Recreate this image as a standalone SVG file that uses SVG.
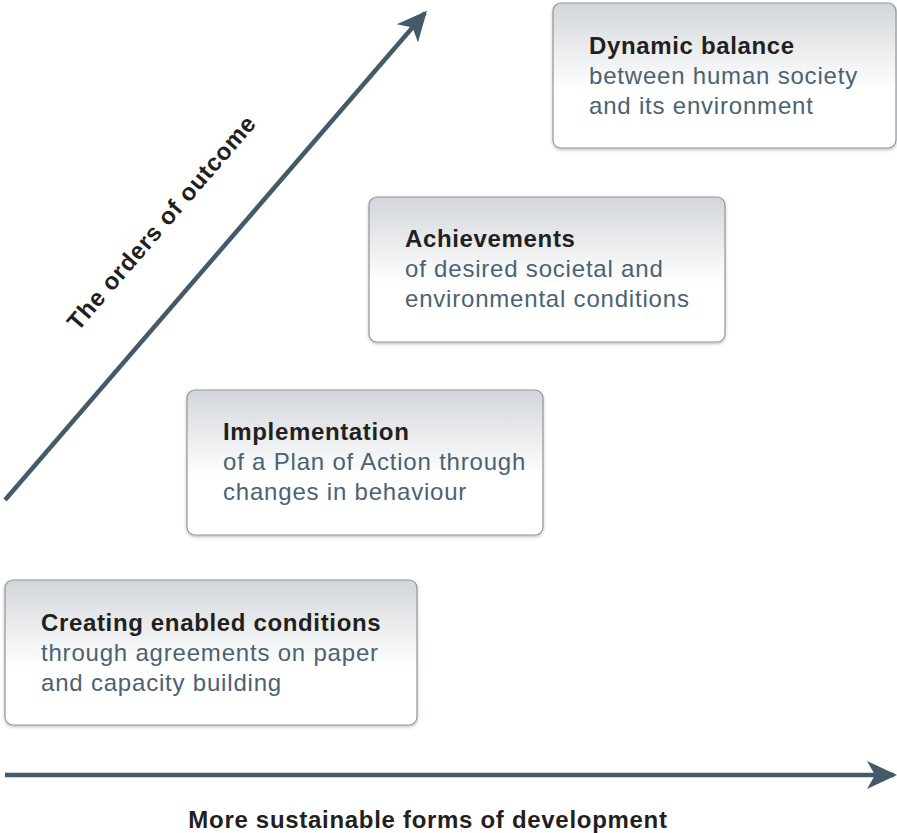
<svg xmlns="http://www.w3.org/2000/svg" width="897" height="833" viewBox="0 0 897 833">
<defs>
<linearGradient id="bg" x1="0" y1="0" x2="0" y2="1">
<stop offset="0" stop-color="#d2d6da"/>
<stop offset="0.6" stop-color="#ffffff"/>
<stop offset="1" stop-color="#ffffff"/>
</linearGradient>
<filter id="sh" x="-5%" y="-5%" width="110%" height="115%">
<feDropShadow dx="0" dy="1.5" stdDeviation="1.5" flood-color="#000" flood-opacity="0.25"/>
</filter>
<marker id="ah" viewBox="0 0 30 30" refX="27" refY="15" markerWidth="30" markerHeight="30" markerUnits="userSpaceOnUse" orient="auto">
<path d="M0,1 L30,15 L0,29 L8,15 Z" fill="#455a68"/>
</marker>
</defs>
<style>
.box{fill:url(#bg);stroke:#8f969c;stroke-width:1.2;filter:url(#sh)}
.t{font-family:"Liberation Sans",Arial,sans-serif;font-size:24px;font-weight:bold;fill:#231f20;letter-spacing:0.65px}
.s{font-family:"Liberation Sans",Arial,sans-serif;font-size:24px;fill:#4a6274;letter-spacing:0.8px}
.ax{stroke:#455a68;stroke-width:4.5;fill:none}
.lab{font-family:"Liberation Sans",Arial,sans-serif;font-size:24px;font-weight:bold;fill:#231f20;letter-spacing:0.7px}
</style>
<g id="connectors">
<line class="ax" x1="5" y1="500" x2="425" y2="13" marker-end="url(#ah)"/>
<line class="ax" x1="5" y1="775" x2="894" y2="775" marker-end="url(#ah)"/>
</g>
<g id="label-orders">
<text class="lab" transform="translate(78,332) rotate(-49.2)">The orders of outcome</text>
</g>
<g id="label-dev">
<text class="lab" x="428" y="828" text-anchor="middle">More sustainable forms of development</text>
</g>
<g id="node-dynamic">
<rect class="box" x="553" y="3" width="343" height="145" rx="8"/>
<text class="t" x="589" y="54">Dynamic balance</text>
<text class="s" x="589" y="84">between human society</text>
<text class="s" x="589" y="114">and its environment</text>
</g>
<g id="node-achievements">
<rect class="box" x="369" y="197" width="356" height="145" rx="8"/>
<text class="t" x="405" y="247">Achievements</text>
<text class="s" x="405" y="277">of desired societal and</text>
<text class="s" x="405" y="307">environmental conditions</text>
</g>
<g id="node-implementation">
<rect class="box" x="187" y="390" width="356" height="145" rx="8"/>
<text class="t" x="223" y="440">Implementation</text>
<text class="s" x="223" y="470">of a Plan of Action through</text>
<text class="s" x="223" y="500">changes in behaviour</text>
</g>
<g id="node-creating">
<rect class="box" x="5" y="580" width="412" height="145" rx="8"/>
<text class="t" x="41" y="631">Creating enabled conditions</text>
<text class="s" x="41" y="661">through agreements on paper</text>
<text class="s" x="41" y="691">and capacity building</text>
</g>
</svg>
